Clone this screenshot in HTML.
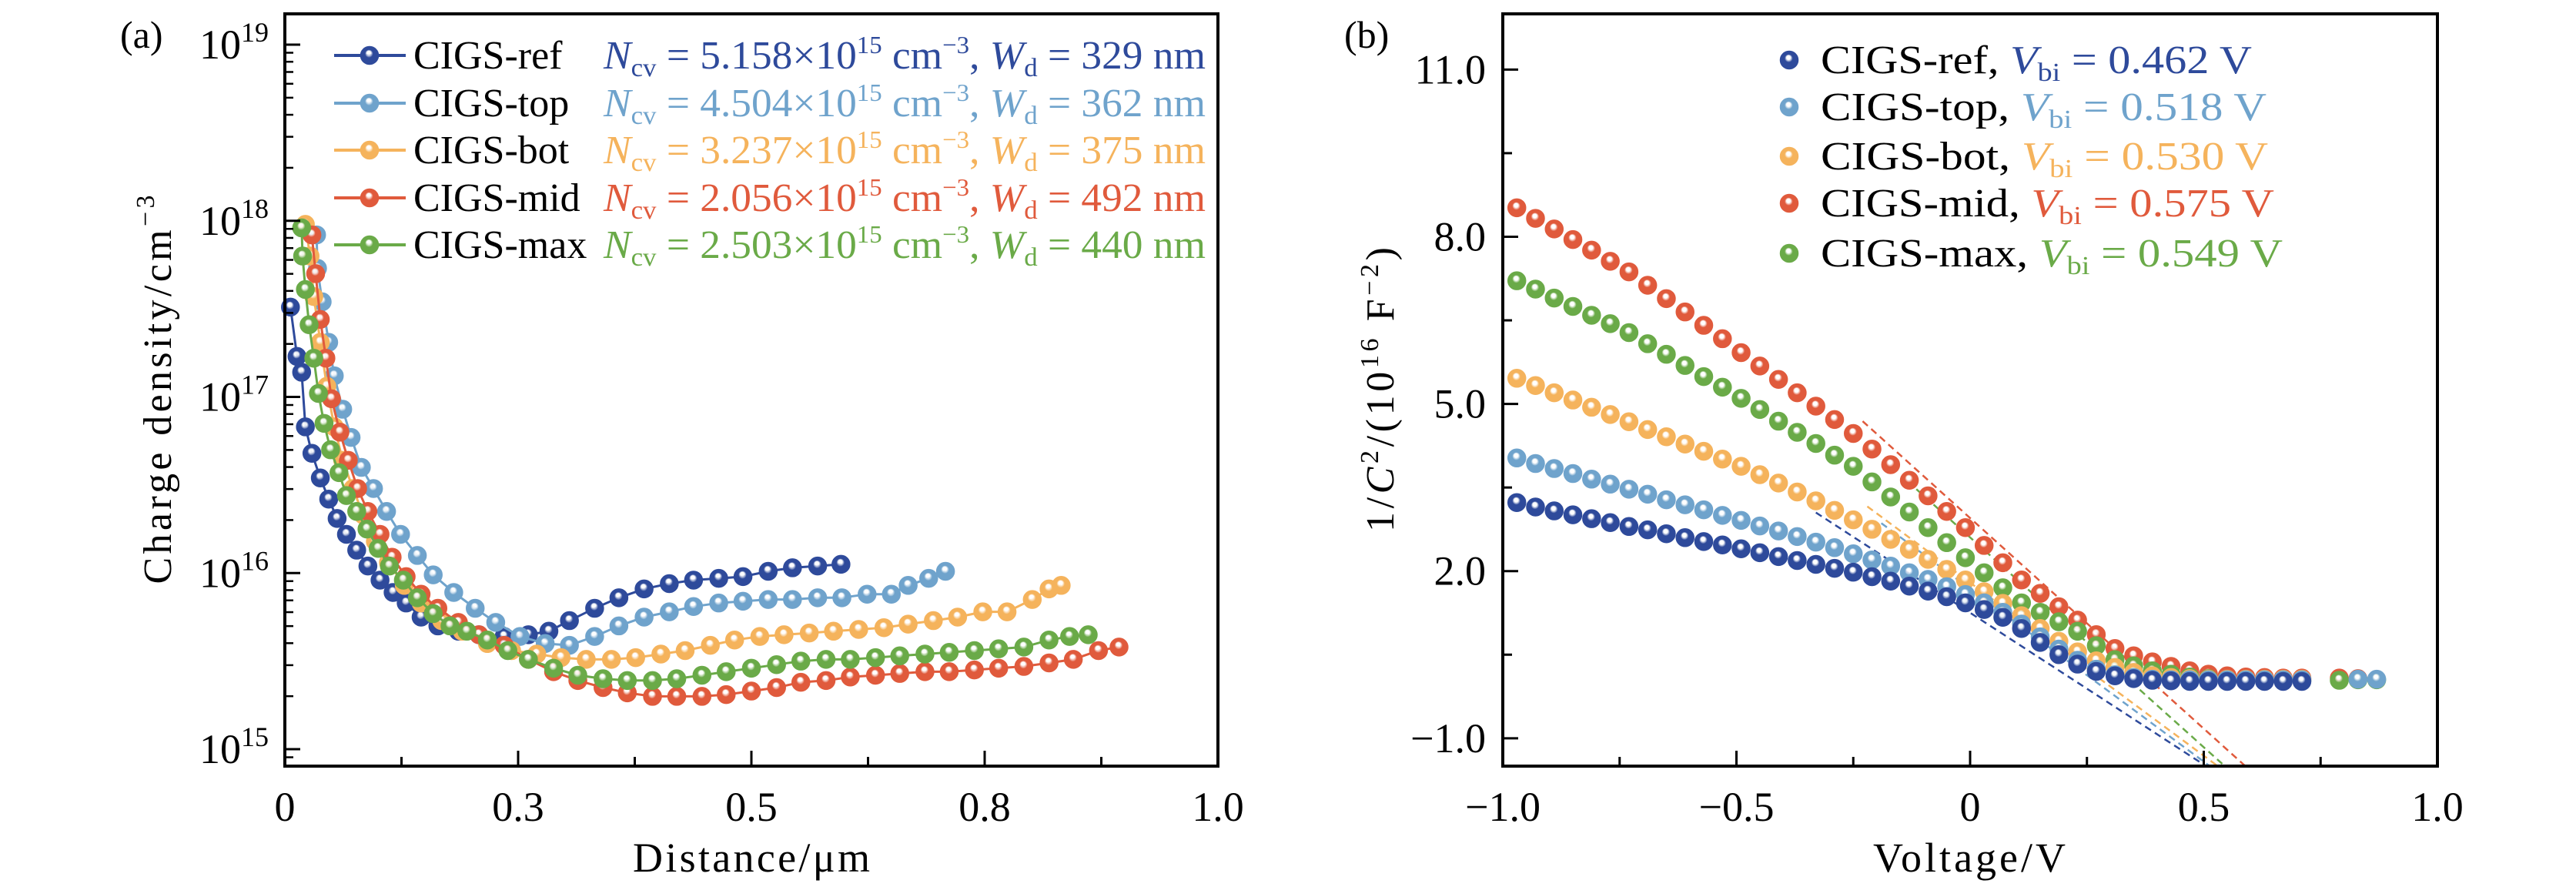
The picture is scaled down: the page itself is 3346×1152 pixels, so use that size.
<!DOCTYPE html>
<html><head><meta charset="utf-8">
<style>
html,body{margin:0;padding:0;background:#fff;}
svg{display:block;font-family:"Liberation Serif","DejaVu Serif",serif;}
</style></head>
<body>
<svg id="chart" width="3346" height="1152" viewBox="0 0 3346 1152" xmlns="http://www.w3.org/2000/svg">
<defs id="defs"></defs>
<g id="pa"></g>
<g id="pb"></g>
</svg>
<script>
// ---------- shared ----------
const seriesNames = ["CIGS-ref","CIGS-top","CIGS-bot","CIGS-mid","CIGS-max"];
const seriesColors = ["#2e4a9b","#6fa3cc","#f5b35c","#e05a3c","#6aaa48"];
const ncvLabels = ["5.158","4.504","3.237","2.056","2.503"];
const wdLabels = ["329","362","375","492","440"];
const vbiLabels = ["0.462","0.518","0.530","0.575","0.549"];

// ---------- panel a data (distance µm, log10 density) ----------
const refDist = [.006,.013,.018,.022,.029,.038,.047,.056,.066,.077,.089,.102,.116,.130,.146,.164,.186,.208,.235,.261,.283,.305,.332,.358,.385,.412,.438,.465,.491,.518,.544,.571,.596];
const refLogN = [17.51,17.23,17.14,16.83,16.68,16.54,16.42,16.31,16.22,16.13,16.04,15.96,15.89,15.83,15.75,15.70,15.67,15.65,15.64,15.65,15.67,15.73,15.80,15.86,15.91,15.94,15.96,15.97,15.98,16.01,16.03,16.04,16.05];
const topDist = [.034,.035,.040,.047,.053,.062,.071,.082,.095,.109,.124,.142,.159,.181,.204,.226,.252,.279,.305,.332,.358,.385,.412,.438,.465,.491,.518,.544,.571,.597,.624,.650,.668,.690,.708];
const topLogN = [17.92,17.73,17.54,17.31,17.12,16.93,16.77,16.60,16.48,16.35,16.22,16.10,15.99,15.89,15.80,15.72,15.64,15.60,15.59,15.64,15.70,15.75,15.78,15.81,15.83,15.84,15.85,15.85,15.86,15.86,15.88,15.88,15.93,15.97,16.01];
const botDist = [.022,.027,.031,.038,.045,.053,.062,.073,.084,.097,.111,.128,.146,.168,.190,.217,.243,.270,.296,.323,.350,.376,.403,.429,.456,.482,.509,.535,.562,.588,.615,.642,.668,.695,.721,.748,.774,.801,.819,.832];
const botLogN = [17.98,17.80,17.57,17.31,17.06,16.83,16.64,16.48,16.33,16.18,16.06,15.93,15.83,15.73,15.67,15.60,15.56,15.54,15.52,15.51,15.51,15.52,15.54,15.56,15.59,15.62,15.64,15.65,15.66,15.67,15.68,15.69,15.71,15.73,15.75,15.78,15.78,15.85,15.91,15.93];
const midDist = [.029,.033,.038,.044,.050,.059,.068,.078,.089,.102,.115,.130,.146,.164,.186,.208,.235,.261,.288,.314,.341,.367,.394,.420,.447,.473,.500,.527,.553,.580,.606,.633,.659,.686,.712,.739,.765,.792,.819,.845,.872,.894];
const midLogN = [17.92,17.70,17.44,17.22,16.99,16.80,16.64,16.48,16.35,16.22,16.09,15.98,15.88,15.80,15.72,15.65,15.59,15.51,15.44,15.39,15.35,15.32,15.30,15.30,15.30,15.31,15.33,15.35,15.38,15.39,15.41,15.42,15.43,15.44,15.44,15.45,15.46,15.47,15.49,15.51,15.56,15.58];
const maxDist = [.018,.019,.022,.026,.031,.036,.042,.049,.058,.066,.077,.088,.100,.112,.127,.142,.159,.177,.195,.217,.239,.261,.288,.314,.341,.367,.394,.420,.447,.473,.500,.527,.553,.580,.606,.633,.659,.686,.712,.739,.765,.792,.819,.841,.861];
const maxLogN = [17.96,17.80,17.61,17.41,17.22,17.02,16.85,16.70,16.57,16.44,16.35,16.25,16.14,16.04,15.96,15.86,15.77,15.70,15.67,15.62,15.56,15.51,15.46,15.42,15.40,15.39,15.39,15.40,15.42,15.44,15.46,15.48,15.50,15.51,15.51,15.52,15.53,15.54,15.55,15.56,15.57,15.58,15.62,15.64,15.65];
const aXTickVals = [0,0.25,0.5,0.75,1.0];
const aXTickLabels = ["0","0.3","0.5","0.8","1.0"];
const aYDecades = [15,16,17,18,19];

// ---------- panel b data (voltage V, 1/C^2 in 1e16 F^-2) ----------
const voltages = [-0.97,-0.93,-0.89,-0.85,-0.81,-0.77,-0.73,-0.69,-0.65,-0.61,-0.57,-0.53,-0.49,-0.45,-0.41,-0.37,-0.33,-0.29,-0.25,-0.21,-0.17,-0.13,-0.09,-0.05,-0.01,0.03,0.07,0.11,0.15,0.19,0.23,0.27,0.31,0.35,0.39,0.43,0.47,0.51,0.55,0.59,0.63,0.67,0.71];
const refC2 = [3.23,3.15,3.08,3.01,2.94,2.87,2.80,2.74,2.67,2.60,2.53,2.47,2.40,2.33,2.26,2.19,2.12,2.05,1.98,1.90,1.82,1.73,1.64,1.54,1.43,1.31,1.17,0.97,0.72,0.50,0.33,0.20,0.12,0.07,0.04,0.03,0.02,0.02,0.02,0.02,0.02,0.02,0.02];
const topC2 = [4.03,3.93,3.84,3.75,3.65,3.56,3.47,3.38,3.28,3.19,3.10,3.00,2.91,2.81,2.72,2.62,2.52,2.42,2.31,2.20,2.09,1.97,1.85,1.72,1.58,1.43,1.26,1.05,0.82,0.60,0.40,0.24,0.14,0.09,0.06,0.05,0.05,0.05,0.05,0.05,0.05,0.05,0.05];
const botC2 = [5.46,5.33,5.20,5.07,4.94,4.81,4.68,4.54,4.41,4.28,4.15,4.01,3.88,3.73,3.58,3.42,3.26,3.09,2.92,2.75,2.57,2.39,2.21,2.03,1.84,1.63,1.42,1.20,0.97,0.74,0.55,0.39,0.27,0.18,0.12,0.09,0.07,0.06,0.06,0.06,0.06,0.06,0.06];
const midC2 = [8.52,8.33,8.14,7.95,7.76,7.56,7.37,7.13,6.89,6.65,6.41,6.17,5.92,5.68,5.44,5.20,4.96,4.72,4.47,4.19,3.91,3.63,3.35,3.07,2.78,2.46,2.15,1.84,1.60,1.36,1.12,0.86,0.61,0.48,0.37,0.29,0.21,0.15,0.12,0.10,0.09,0.08,0.08];
const maxC2 = [7.21,7.06,6.90,6.75,6.59,6.44,6.28,6.08,5.89,5.69,5.49,5.30,5.10,4.90,4.69,4.49,4.29,4.08,3.88,3.60,3.33,3.06,2.78,2.51,2.24,1.97,1.70,1.43,1.26,1.09,0.92,0.66,0.41,0.30,0.21,0.15,0.10,0.07,0.05,0.04,0.04,0.04,0.04];
const extraV = [0.79,0.83,0.87];
const topExtra = [null,0.06,0.06];
const midExtra = [0.08,0.07,null];
const maxExtra = [0.04,0.05,0.05];
const fitStartV = [-0.33,-0.19,-0.22,-0.23,-0.115];
const fitStartY = [3.05,2.86,3.16,4.69,3.47];
const fitEndV = [0.505,0.513,0.53,0.589,0.545];
const fitEndY = [-1.5,-1.5,-1.5,-1.5,-1.5];
const bXTickVals = [-1,-0.5,0,0.5,1];
const bXTickLabels = ["\u22121.0","\u22120.5","0","0.5","1.0"];
const bYTickVals = [11,8,5,2,-1];
const bYTickLabels = ["11.0","8.0","5.0","2.0","\u22121.0"];

// ---------- helpers ----------
const NS = "http://www.w3.org/2000/svg";
function mk(tag, attrs, parent){
  const e = document.createElementNS(NS, tag);
  for (const k in attrs) e.setAttribute(k, attrs[k]);
  if (parent) parent.appendChild(e);
  return e;
}
const defs = document.getElementById('defs');
seriesColors.forEach((c,i)=>{
  const g = mk('radialGradient',{id:'g'+i,cx:'0.5',cy:'0.5',r:'0.5',fx:'0.45',fy:'0.32'},defs);
  mk('stop',{offset:'0',  'stop-color':'#ffffff'},g);
  mk('stop',{offset:'0.22','stop-color':'#ffffff','stop-opacity':'0.85'},g);
  mk('stop',{offset:'0.45','stop-color':c},g);
  mk('stop',{offset:'1','stop-color':c},g);
});
function marker(parent, x, y, i, name){
  const c = mk('circle',{cx:x,cy:y,r:11.5,fill:'url(#g'+i+')',stroke:seriesColors[i],'stroke-width':1.5},parent);
  
  
  return c;
}
function text(parent, x, y, str, size, anchor, fill, name){
  const t = mk('text',{x:x,y:y,'font-size':size,'text-anchor':anchor||'start',fill:fill||'#000'},parent);
  t.textContent = str;
  
  
  return t;
}

// ---------- panel a ----------
const pa = document.getElementById('pa');
const A = {l:370,r:1582,t:18,b:995};
const aX = v => A.l + v*(A.r-A.l);
const aLogMin = 14.904, aLogMax = 19.175;
const aY = lg => A.b - (lg-aLogMin)/(aLogMax-aLogMin)*(A.b-A.t);

const aDist = [refDist,topDist,botDist,midDist,maxDist];
const aLog = [refLogN,topLogN,botLogN,midLogN,maxLogN];
[0,1,2,3,4].forEach(i=>{
  const g = mk('g',{},pa);
  
  
  const pts = aDist[i].map((d,k)=>aX(d).toFixed(1)+','+aY(aLog[i][k]).toFixed(1)).join(' ');
  const pl = mk('polyline',{points:pts,fill:'none',stroke:seriesColors[i],'stroke-width':3},g);
  
  
  aDist[i].forEach((d,k)=>marker(g, aX(d), aY(aLog[i][k]), i, 'point'));
});
const axA = mk('g',{},pa);


const frA = mk('rect',{x:A.l,y:A.t,width:A.r-A.l,height:A.b-A.t,fill:'none',stroke:'#000','stroke-width':4},axA);


aXTickVals.forEach((v,k)=>{
  mk('line',{x1:aX(v),x2:aX(v),y1:A.b,y2:A.b-20,stroke:'#000','stroke-width':3},axA);
  text(axA, aX(v), 1066, aXTickLabels[k], 54, 'middle', '#000', 'x-tick-label');
  if (k<aXTickVals.length-1){ const m=(v+aXTickVals[k+1])/2; mk('line',{x1:aX(m),x2:aX(m),y1:A.b,y2:A.b-12,stroke:'#000','stroke-width':3},axA); }
});
aYDecades.forEach(d=>{
  const y = aY(d);
  mk('line',{x1:A.l,x2:A.l+20,y1:y,y2:y,stroke:'#000','stroke-width':3},axA);
  const t = mk('text',{x:349,y:y+18,'font-size':54,'text-anchor':'end'},axA);
  
  
  t.innerHTML = '10<tspan font-size="36" dy="-22">'+d+'</tspan>';
  for (let m=2;m<=9;m++){
    const lg = d + Math.log10(m);
    if (lg>aLogMax) continue;
    mk('line',{x1:A.l,x2:A.l+11,y1:aY(lg),y2:aY(lg),stroke:'#000','stroke-width':2.5},axA);
  }
});
for (let m=2;m<=9;m++){ const lg=14+Math.log10(m); if(lg>aLogMin) mk('line',{x1:A.l,x2:A.l+11,y1:aY(lg),y2:aY(lg),stroke:'#000','stroke-width':2.5},axA); }
const xtA = text(axA, 976, 1132, 'Distance/\u03bcm', 54, 'middle', '#000', 'x-axis-title');
xtA.setAttribute('textLength','308');
const ytA = mk('text',{x:0,y:0,'font-size':52,'text-anchor':'middle',textLength:'505',transform:'translate(222,506) rotate(-90)'},axA);


ytA.innerHTML = 'Charge density/cm<tspan font-size="34" dy="-22">\u22123</tspan>';
text(pa, 156, 62, '(a)', 50, 'start', '#000', 'panel-a-label');
const legA = mk('g',{},pa);


const legRowsA = [72,134,195,257,318];
seriesNames.forEach((n,i)=>{
  const y = legRowsA[i];
  const e = mk('g',{},legA);
  
  
  mk('line',{x1:434,x2:527,y1:y,y2:y,stroke:seriesColors[i],'stroke-width':4},e);
  marker(e,480,y,i,'legend-marker');
  text(e,537,y+17,n,52,'start','#000','legend-label');
  const t = mk('text',{x:784,y:y+17,'font-size':52,fill:seriesColors[i],textLength:'782',lengthAdjust:'spacingAndGlyphs'},e);
  
  
  t.innerHTML = '<tspan font-style="italic">N</tspan><tspan font-size="34" dy="10">cv</tspan><tspan dy="-10"> = '+ncvLabels[i]+'\u00d710</tspan><tspan font-size="32" dy="-20">15</tspan><tspan dy="20"> cm</tspan><tspan font-size="32" dy="-20">\u22123</tspan><tspan dy="20">, </tspan><tspan font-style="italic">W</tspan><tspan font-size="34" dy="10">d</tspan><tspan dy="-10"> = '+wdLabels[i]+' nm</tspan>';
});

// ---------- panel b ----------
const pb = document.getElementById('pb');
const B = {l:1952,r:3166,t:18,b:995};
const bX = v => B.l + (v+1)/2*(B.r-B.l);
const bYmin = -1.5, bYmax = 12.0;
const bY = v => B.b - (v-bYmin)/(bYmax-bYmin)*(B.b-B.t);
const bVals = [refC2,topC2,botC2,midC2,maxC2];
const bExtra = [null,topExtra,null,midExtra,maxExtra];
seriesNames.forEach((n,i)=>{
  const l = mk('line',{x1:bX(fitStartV[i]),y1:bY(fitStartY[i]),x2:bX(fitEndV[i]),y2:bY(fitEndY[i]),stroke:seriesColors[i],'stroke-width':2.5,'stroke-dasharray':'9,6'},pb);
  
  
});
[3,4,2,1,0].forEach(i=>{
  const g = mk('g',{},pb);
  
  
  voltages.forEach((v,k)=>marker(g,bX(v),bY(bVals[i][k]),i,'point'));
  if (bExtra[i]) extraV.forEach((v,k)=>{ if(bExtra[i][k]!==null) marker(g,bX(v),bY(bExtra[i][k]),i,'point'); });
});
const axB = mk('g',{},pb);


const frB = mk('rect',{x:B.l,y:B.t,width:B.r-B.l,height:B.b-B.t,fill:'none',stroke:'#000','stroke-width':4},axB);


bXTickVals.forEach((v,k)=>{
  mk('line',{x1:bX(v),x2:bX(v),y1:B.b,y2:B.b-20,stroke:'#000','stroke-width':3},axB);
  text(axB,bX(v),1066,bXTickLabels[k],54,'middle','#000','x-tick-label');
  if (k<bXTickVals.length-1){ const m=(v+bXTickVals[k+1])/2; mk('line',{x1:bX(m),x2:bX(m),y1:B.b,y2:B.b-12,stroke:'#000','stroke-width':3},axB); }
});
bYTickVals.forEach((v,k)=>{
  mk('line',{x1:B.l,x2:B.l+20,y1:bY(v),y2:bY(v),stroke:'#000','stroke-width':3},axB);
  text(axB,1930,bY(v)+18,bYTickLabels[k],54,'end','#000','y-tick-label');
  if (k<bYTickVals.length-1){ const m=(v+bYTickVals[k+1])/2; mk('line',{x1:B.l,x2:B.l+12,y1:bY(m),y2:bY(m),stroke:'#000','stroke-width':3},axB); }
});
const xtB = text(axB,2558,1132,'Voltage/V',54,'middle','#000','x-axis-title');
xtB.setAttribute('textLength','250');
const ytB = mk('text',{x:0,y:0,'font-size':52,'text-anchor':'middle',textLength:'370',transform:'translate(1810,506) rotate(-90)'},axB);


ytB.innerHTML = '1/<tspan font-style="italic">C</tspan><tspan font-size="34" dy="-20">2</tspan><tspan dy="20">/(10</tspan><tspan font-size="34" dy="-20">16</tspan><tspan dy="20"> F</tspan><tspan font-size="34" dy="-20">\u22122</tspan><tspan dy="20">)</tspan>';
text(pb,1746,62,'(b)',50,'start','#000','panel-b-label');
const legB = mk('g',{},pb);


const legRowsB = [78,139,203,264,329];
const legEndB = [2925,2944,2946,2954,2965];
seriesNames.forEach((n,i)=>{
  const y = legRowsB[i];
  const e = mk('g',{},legB);
  
  
  marker(e,2324,y,i,'legend-marker');
  const t = mk('text',{x:2365,y:y+17,'font-size':52,textLength:String(legEndB[i]-2365),lengthAdjust:'spacingAndGlyphs'},e);
  
  
  t.innerHTML = n+', <tspan fill="'+seriesColors[i]+'"><tspan font-style="italic">V</tspan><tspan font-size="34" dy="10">bi</tspan><tspan dy="-10"> = '+vbiLabels[i]+' V</tspan></tspan>';
});
</script>
</body></html>
